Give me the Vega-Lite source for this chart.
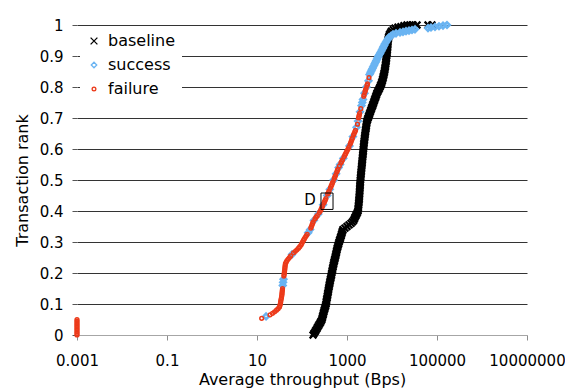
{
  "$schema": "https://vega.github.io/schema/vega-lite/v6.json",
  "width": 450,
  "height": 310,
  "autosize": {"type": "none"},
  "padding": {"left": 77, "top": 25, "right": 38, "bottom": 56},
  "config": {
    "view": {"stroke": null},
    "font": "DejaVu Sans"
  },
  "datasets": {
    "transactions": [
      {"rank": 0.00, "throughput": 176, "series": "baseline"},
      {"rank": 0.005, "throughput": 185, "series": "baseline"},
      {"rank": 0.01, "throughput": 194, "series": "baseline"},
      {"rank": 0.015, "throughput": 203, "series": "baseline"},
      {"rank": 0.02, "throughput": 213, "series": "baseline"},
      {"rank": 0.025, "throughput": 222, "series": "baseline"},
      {"rank": 0.03, "throughput": 233, "series": "baseline"},
      {"rank": 0.035, "throughput": 244, "series": "baseline"},
      {"rank": 0.04, "throughput": 255, "series": "baseline"},
      {"rank": 0.045, "throughput": 266, "series": "baseline"},
      {"rank": 0.05, "throughput": 277, "series": "baseline"},
      {"rank": 0.055, "throughput": 282, "series": "baseline"},
      {"rank": 0.06, "throughput": 288, "series": "baseline"},
      {"rank": 0.065, "throughput": 294, "series": "baseline"},
      {"rank": 0.07, "throughput": 300, "series": "baseline"},
      {"rank": 0.075, "throughput": 306, "series": "baseline"},
      {"rank": 0.08, "throughput": 313, "series": "baseline"},
      {"rank": 0.085, "throughput": 320, "series": "baseline"},
      {"rank": 0.09, "throughput": 328, "series": "baseline"},
      {"rank": 0.095, "throughput": 335, "series": "baseline"},
      {"rank": 0.10, "throughput": 342, "series": "baseline"},
      {"rank": 0.105, "throughput": 346, "series": "baseline"},
      {"rank": 0.11, "throughput": 350, "series": "baseline"},
      {"rank": 0.115, "throughput": 355, "series": "baseline"},
      {"rank": 0.12, "throughput": 361, "series": "baseline"},
      {"rank": 0.125, "throughput": 366, "series": "baseline"},
      {"rank": 0.13, "throughput": 371, "series": "baseline"},
      {"rank": 0.135, "throughput": 376, "series": "baseline"},
      {"rank": 0.14, "throughput": 382, "series": "baseline"},
      {"rank": 0.145, "throughput": 387, "series": "baseline"},
      {"rank": 0.15, "throughput": 392, "series": "baseline"},
      {"rank": 0.155, "throughput": 398, "series": "baseline"},
      {"rank": 0.16, "throughput": 404, "series": "baseline"},
      {"rank": 0.165, "throughput": 410, "series": "baseline"},
      {"rank": 0.17, "throughput": 417, "series": "baseline"},
      {"rank": 0.175, "throughput": 423, "series": "baseline"},
      {"rank": 0.18, "throughput": 430, "series": "baseline"},
      {"rank": 0.185, "throughput": 438, "series": "baseline"},
      {"rank": 0.19, "throughput": 446, "series": "baseline"},
      {"rank": 0.195, "throughput": 452, "series": "baseline"},
      {"rank": 0.20, "throughput": 459, "series": "baseline"},
      {"rank": 0.205, "throughput": 466, "series": "baseline"},
      {"rank": 0.21, "throughput": 474, "series": "baseline"},
      {"rank": 0.215, "throughput": 481, "series": "baseline"},
      {"rank": 0.22, "throughput": 489, "series": "baseline"},
      {"rank": 0.225, "throughput": 497, "series": "baseline"},
      {"rank": 0.23, "throughput": 506, "series": "baseline"},
      {"rank": 0.235, "throughput": 515, "series": "baseline"},
      {"rank": 0.24, "throughput": 525, "series": "baseline"},
      {"rank": 0.245, "throughput": 536, "series": "baseline"},
      {"rank": 0.25, "throughput": 547, "series": "baseline"},
      {"rank": 0.255, "throughput": 557, "series": "baseline"},
      {"rank": 0.26, "throughput": 567, "series": "baseline"},
      {"rank": 0.265, "throughput": 577, "series": "baseline"},
      {"rank": 0.27, "throughput": 587, "series": "baseline"},
      {"rank": 0.275, "throughput": 598, "series": "baseline"},
      {"rank": 0.28, "throughput": 609, "series": "baseline"},
      {"rank": 0.285, "throughput": 623, "series": "baseline"},
      {"rank": 0.29, "throughput": 637, "series": "baseline"},
      {"rank": 0.295, "throughput": 652, "series": "baseline"},
      {"rank": 0.30, "throughput": 667, "series": "baseline"},
      {"rank": 0.305, "throughput": 685, "series": "baseline"},
      {"rank": 0.31, "throughput": 703, "series": "baseline"},
      {"rank": 0.315, "throughput": 721, "series": "baseline"},
      {"rank": 0.32, "throughput": 740, "series": "baseline"},
      {"rank": 0.325, "throughput": 757, "series": "baseline"},
      {"rank": 0.33, "throughput": 774, "series": "baseline"},
      {"rank": 0.335, "throughput": 794, "series": "baseline"},
      {"rank": 0.34, "throughput": 815, "series": "baseline"},
      {"rank": 0.345, "throughput": 900, "series": "baseline"},
      {"rank": 0.35, "throughput": 1000, "series": "baseline"},
      {"rank": 0.355, "throughput": 1110, "series": "baseline"},
      {"rank": 0.36, "throughput": 1227, "series": "baseline"},
      {"rank": 0.365, "throughput": 1320, "series": "baseline"},
      {"rank": 0.37, "throughput": 1409, "series": "baseline"},
      {"rank": 0.375, "throughput": 1460, "series": "baseline"},
      {"rank": 0.38, "throughput": 1514, "series": "baseline"},
      {"rank": 0.385, "throughput": 1572, "series": "baseline"},
      {"rank": 0.39, "throughput": 1634, "series": "baseline"},
      {"rank": 0.395, "throughput": 1694, "series": "baseline"},
      {"rank": 0.40, "throughput": 1756, "series": "baseline"},
      {"rank": 0.405, "throughput": 1770, "series": "baseline"},
      {"rank": 0.41, "throughput": 1783, "series": "baseline"},
      {"rank": 0.415, "throughput": 1797, "series": "baseline"},
      {"rank": 0.42, "throughput": 1810, "series": "baseline"},
      {"rank": 0.425, "throughput": 1824, "series": "baseline"},
      {"rank": 0.43, "throughput": 1838, "series": "baseline"},
      {"rank": 0.435, "throughput": 1852, "series": "baseline"},
      {"rank": 0.44, "throughput": 1867, "series": "baseline"},
      {"rank": 0.445, "throughput": 1876, "series": "baseline"},
      {"rank": 0.45, "throughput": 1886, "series": "baseline"},
      {"rank": 0.455, "throughput": 1895, "series": "baseline"},
      {"rank": 0.46, "throughput": 1905, "series": "baseline"},
      {"rank": 0.465, "throughput": 1915, "series": "baseline"},
      {"rank": 0.47, "throughput": 1925, "series": "baseline"},
      {"rank": 0.475, "throughput": 1935, "series": "baseline"},
      {"rank": 0.48, "throughput": 1945, "series": "baseline"},
      {"rank": 0.485, "throughput": 1955, "series": "baseline"},
      {"rank": 0.49, "throughput": 1965, "series": "baseline"},
      {"rank": 0.495, "throughput": 1975, "series": "baseline"},
      {"rank": 0.50, "throughput": 1985, "series": "baseline"},
      {"rank": 0.505, "throughput": 2000, "series": "baseline"},
      {"rank": 0.51, "throughput": 2016, "series": "baseline"},
      {"rank": 0.515, "throughput": 2031, "series": "baseline"},
      {"rank": 0.52, "throughput": 2047, "series": "baseline"},
      {"rank": 0.525, "throughput": 2063, "series": "baseline"},
      {"rank": 0.53, "throughput": 2079, "series": "baseline"},
      {"rank": 0.535, "throughput": 2095, "series": "baseline"},
      {"rank": 0.54, "throughput": 2111, "series": "baseline"},
      {"rank": 0.545, "throughput": 2128, "series": "baseline"},
      {"rank": 0.55, "throughput": 2144, "series": "baseline"},
      {"rank": 0.555, "throughput": 2160, "series": "baseline"},
      {"rank": 0.56, "throughput": 2177, "series": "baseline"},
      {"rank": 0.565, "throughput": 2194, "series": "baseline"},
      {"rank": 0.57, "throughput": 2211, "series": "baseline"},
      {"rank": 0.575, "throughput": 2228, "series": "baseline"},
      {"rank": 0.58, "throughput": 2245, "series": "baseline"},
      {"rank": 0.585, "throughput": 2262, "series": "baseline"},
      {"rank": 0.59, "throughput": 2280, "series": "baseline"},
      {"rank": 0.595, "throughput": 2297, "series": "baseline"},
      {"rank": 0.60, "throughput": 2314, "series": "baseline"},
      {"rank": 0.605, "throughput": 2332, "series": "baseline"},
      {"rank": 0.61, "throughput": 2350, "series": "baseline"},
      {"rank": 0.615, "throughput": 2368, "series": "baseline"},
      {"rank": 0.62, "throughput": 2387, "series": "baseline"},
      {"rank": 0.625, "throughput": 2411, "series": "baseline"},
      {"rank": 0.63, "throughput": 2436, "series": "baseline"},
      {"rank": 0.635, "throughput": 2461, "series": "baseline"},
      {"rank": 0.64, "throughput": 2487, "series": "baseline"},
      {"rank": 0.645, "throughput": 2512, "series": "baseline"},
      {"rank": 0.65, "throughput": 2538, "series": "baseline"},
      {"rank": 0.655, "throughput": 2564, "series": "baseline"},
      {"rank": 0.66, "throughput": 2591, "series": "baseline"},
      {"rank": 0.665, "throughput": 2624, "series": "baseline"},
      {"rank": 0.67, "throughput": 2657, "series": "baseline"},
      {"rank": 0.675, "throughput": 2684, "series": "baseline"},
      {"rank": 0.68, "throughput": 2712, "series": "baseline"},
      {"rank": 0.685, "throughput": 2747, "series": "baseline"},
      {"rank": 0.69, "throughput": 2783, "series": "baseline"},
      {"rank": 0.695, "throughput": 2862, "series": "baseline"},
      {"rank": 0.70, "throughput": 2944, "series": "baseline"},
      {"rank": 0.705, "throughput": 3027, "series": "baseline"},
      {"rank": 0.71, "throughput": 3113, "series": "baseline"},
      {"rank": 0.715, "throughput": 3203, "series": "baseline"},
      {"rank": 0.72, "throughput": 3295, "series": "baseline"},
      {"rank": 0.725, "throughput": 3389, "series": "baseline"},
      {"rank": 0.73, "throughput": 3485, "series": "baseline"},
      {"rank": 0.735, "throughput": 3594, "series": "baseline"},
      {"rank": 0.74, "throughput": 3706, "series": "baseline"},
      {"rank": 0.745, "throughput": 3812, "series": "baseline"},
      {"rank": 0.75, "throughput": 3920, "series": "baseline"},
      {"rank": 0.755, "throughput": 4032, "series": "baseline"},
      {"rank": 0.76, "throughput": 4147, "series": "baseline"},
      {"rank": 0.765, "throughput": 4265, "series": "baseline"},
      {"rank": 0.77, "throughput": 4387, "series": "baseline"},
      {"rank": 0.775, "throughput": 4513, "series": "baseline"},
      {"rank": 0.78, "throughput": 4642, "series": "baseline"},
      {"rank": 0.785, "throughput": 4823, "series": "baseline"},
      {"rank": 0.79, "throughput": 5012, "series": "baseline"},
      {"rank": 0.795, "throughput": 5208, "series": "baseline"},
      {"rank": 0.80, "throughput": 5412, "series": "baseline"},
      {"rank": 0.805, "throughput": 5595, "series": "baseline"},
      {"rank": 0.81, "throughput": 5784, "series": "baseline"},
      {"rank": 0.815, "throughput": 5934, "series": "baseline"},
      {"rank": 0.82, "throughput": 6087, "series": "baseline"},
      {"rank": 0.825, "throughput": 6213, "series": "baseline"},
      {"rank": 0.83, "throughput": 6341, "series": "baseline"},
      {"rank": 0.835, "throughput": 6456, "series": "baseline"},
      {"rank": 0.84, "throughput": 6573, "series": "baseline"},
      {"rank": 0.845, "throughput": 6692, "series": "baseline"},
      {"rank": 0.85, "throughput": 6813, "series": "baseline"},
      {"rank": 0.855, "throughput": 6900, "series": "baseline"},
      {"rank": 0.86, "throughput": 6989, "series": "baseline"},
      {"rank": 0.865, "throughput": 7079, "series": "baseline"},
      {"rank": 0.87, "throughput": 7171, "series": "baseline"},
      {"rank": 0.875, "throughput": 7245, "series": "baseline"},
      {"rank": 0.88, "throughput": 7319, "series": "baseline"},
      {"rank": 0.885, "throughput": 7394, "series": "baseline"},
      {"rank": 0.89, "throughput": 7470, "series": "baseline"},
      {"rank": 0.895, "throughput": 7528, "series": "baseline"},
      {"rank": 0.90, "throughput": 7586, "series": "baseline"},
      {"rank": 0.905, "throughput": 7664, "series": "baseline"},
      {"rank": 0.91, "throughput": 7743, "series": "baseline"},
      {"rank": 0.915, "throughput": 7803, "series": "baseline"},
      {"rank": 0.92, "throughput": 7863, "series": "baseline"},
      {"rank": 0.925, "throughput": 7923, "series": "baseline"},
      {"rank": 0.93, "throughput": 7984, "series": "baseline"},
      {"rank": 0.935, "throughput": 8025, "series": "baseline"},
      {"rank": 0.94, "throughput": 8066, "series": "baseline"},
      {"rank": 0.945, "throughput": 8107, "series": "baseline"},
      {"rank": 0.95, "throughput": 8149, "series": "baseline"},
      {"rank": 0.955, "throughput": 8275, "series": "baseline"},
      {"rank": 0.96, "throughput": 8403, "series": "baseline"},
      {"rank": 0.965, "throughput": 8600, "series": "baseline"},
      {"rank": 0.97, "throughput": 8799, "series": "baseline"},
      {"rank": 0.975, "throughput": 9260, "series": "baseline"},
      {"rank": 0.98, "throughput": 9747, "series": "baseline"},
      {"rank": 0.985, "throughput": 10660, "series": "baseline"},
      {"rank": 0.99, "throughput": 11659, "series": "baseline"},
      {"rank": 0.993, "throughput": 13600, "series": "baseline"},
      {"rank": 0.995, "throughput": 15849, "series": "baseline"},
      {"rank": 0.998, "throughput": 18500, "series": "baseline"},
      {"rank": 1.0, "throughput": 21544, "series": "baseline"},
      {"rank": 1.0, "throughput": 25100, "series": "baseline"},
      {"rank": 1.0, "throughput": 29286, "series": "baseline"},
      {"rank": 1.0, "throughput": 35938, "series": "baseline"},
      {"rank": 1.0, "throughput": 63096, "series": "baseline"},
      {"rank": 1.0, "throughput": 77426, "series": "baseline"},

      {"rank": 0.06, "throughput": 15.9, "series": "success"},
      {"rank": 0.16, "throughput": 37.4, "series": "success"},
      {"rank": 0.17, "throughput": 38.0, "series": "success"},
      {"rank": 0.18, "throughput": 38.8, "series": "success"},
      {"rank": 0.26, "throughput": 60.0, "series": "success"},
      {"rank": 0.33, "throughput": 137.3, "series": "success"},
      {"rank": 0.34, "throughput": 151.4, "series": "success"},
      {"rank": 0.37, "throughput": 183.9, "series": "success"},
      {"rank": 0.39, "throughput": 230.3, "series": "success"},
      {"rank": 0.42, "throughput": 294.4, "series": "success"},
      {"rank": 0.45, "throughput": 363.1, "series": "success"},
      {"rank": 0.47, "throughput": 414.8, "series": "success"},
      {"rank": 0.50, "throughput": 506.3, "series": "success"},
      {"rank": 0.52, "throughput": 572.5, "series": "success"},
      {"rank": 0.54, "throughput": 650.7, "series": "success"},
      {"rank": 0.55, "throughput": 702.6, "series": "success"},
      {"rank": 0.57, "throughput": 827.7, "series": "success"},
      {"rank": 0.61, "throughput": 1136, "series": "success"},
      {"rank": 0.64, "throughput": 1353, "series": "success"},
      {"rank": 0.67, "throughput": 1626, "series": "success"},
      {"rank": 0.69, "throughput": 1756, "series": "success"},
      {"rank": 0.72, "throughput": 1945, "series": "success"},
      {"rank": 0.74, "throughput": 2100, "series": "success"},
      {"rank": 0.75, "throughput": 2188, "series": "success"},
      {"rank": 0.76, "throughput": 2268, "series": "success"},
      {"rank": 0.78, "throughput": 2448, "series": "success"},
      {"rank": 0.80, "throughput": 2712, "series": "success"},
      {"rank": 0.82, "throughput": 3005, "series": "success"},
      {"rank": 0.84, "throughput": 3162, "series": "success"},
      {"rank": 0.845, "throughput": 3290, "series": "success"},
      {"rank": 0.85, "throughput": 3415, "series": "success"},
      {"rank": 0.855, "throughput": 3550, "series": "success"},
      {"rank": 0.86, "throughput": 3687, "series": "success"},
      {"rank": 0.865, "throughput": 3830, "series": "success"},
      {"rank": 0.87, "throughput": 3981, "series": "success"},
      {"rank": 0.875, "throughput": 4140, "series": "success"},
      {"rank": 0.88, "throughput": 4298, "series": "success"},
      {"rank": 0.885, "throughput": 4470, "series": "success"},
      {"rank": 0.89, "throughput": 4642, "series": "success"},
      {"rank": 0.895, "throughput": 4820, "series": "success"},
      {"rank": 0.90, "throughput": 5012, "series": "success"},
      {"rank": 0.905, "throughput": 5250, "series": "success"},
      {"rank": 0.91, "throughput": 5495, "series": "success"},
      {"rank": 0.915, "throughput": 5740, "series": "success"},
      {"rank": 0.92, "throughput": 5995, "series": "success"},
      {"rank": 0.925, "throughput": 6230, "series": "success"},
      {"rank": 0.93, "throughput": 6474, "series": "success"},
      {"rank": 0.935, "throughput": 6730, "series": "success"},
      {"rank": 0.94, "throughput": 6989, "series": "success"},
      {"rank": 0.945, "throughput": 7350, "series": "success"},
      {"rank": 0.95, "throughput": 7743, "series": "success"},
      {"rank": 0.955, "throughput": 8150, "series": "success"},
      {"rank": 0.96, "throughput": 8577, "series": "success"},
      {"rank": 0.965, "throughput": 9500, "series": "success"},
      {"rank": 0.97, "throughput": 10525, "series": "success"},
      {"rank": 0.973, "throughput": 12270, "series": "success"},
      {"rank": 0.976, "throughput": 15059, "series": "success"},
      {"rank": 0.978, "throughput": 17557, "series": "success"},
      {"rank": 0.98, "throughput": 20468, "series": "success"},
      {"rank": 0.982, "throughput": 23865, "series": "success"},
      {"rank": 0.984, "throughput": 27826, "series": "success"},
      {"rank": 0.986, "throughput": 32442, "series": "success"},
      {"rank": 0.99, "throughput": 63096, "series": "success"},
      {"rank": 0.992, "throughput": 73564, "series": "success"},
      {"rank": 0.994, "throughput": 90270, "series": "success"},
      {"rank": 0.996, "throughput": 110770, "series": "success"},
      {"rank": 0.998, "throughput": 135936, "series": "success"},
      {"rank": 1.0, "throughput": 166810, "series": "success"},

      {"rank": 0.00, "throughput": 0.001, "series": "failure"},
      {"rank": 0.005, "throughput": 0.001, "series": "failure"},
      {"rank": 0.01, "throughput": 0.001, "series": "failure"},
      {"rank": 0.015, "throughput": 0.001, "series": "failure"},
      {"rank": 0.02, "throughput": 0.001, "series": "failure"},
      {"rank": 0.025, "throughput": 0.001, "series": "failure"},
      {"rank": 0.03, "throughput": 0.001, "series": "failure"},
      {"rank": 0.035, "throughput": 0.001, "series": "failure"},
      {"rank": 0.04, "throughput": 0.001, "series": "failure"},
      {"rank": 0.045, "throughput": 0.001, "series": "failure"},
      {"rank": 0.05, "throughput": 0.001, "series": "failure"},
      {"rank": 0.054, "throughput": 12.7, "series": "failure"},
      {"rank": 0.065, "throughput": 19.5, "series": "failure"},
      {"rank": 0.07, "throughput": 22.1, "series": "failure"},
      {"rank": 0.075, "throughput": 24.6, "series": "failure"},
      {"rank": 0.08, "throughput": 27.1, "series": "failure"},
      {"rank": 0.085, "throughput": 29.4, "series": "failure"},
      {"rank": 0.09, "throughput": 31.6, "series": "failure"},
      {"rank": 0.095, "throughput": 32.3, "series": "failure"},
      {"rank": 0.10, "throughput": 32.9, "series": "failure"},
      {"rank": 0.105, "throughput": 33.4, "series": "failure"},
      {"rank": 0.11, "throughput": 33.8, "series": "failure"},
      {"rank": 0.115, "throughput": 34.3, "series": "failure"},
      {"rank": 0.12, "throughput": 34.9, "series": "failure"},
      {"rank": 0.125, "throughput": 35.3, "series": "failure"},
      {"rank": 0.13, "throughput": 35.8, "series": "failure"},
      {"rank": 0.135, "throughput": 36.0, "series": "failure"},
      {"rank": 0.14, "throughput": 36.3, "series": "failure"},
      {"rank": 0.145, "throughput": 36.6, "series": "failure"},
      {"rank": 0.15, "throughput": 36.9, "series": "failure"},
      {"rank": 0.19, "throughput": 39.6, "series": "failure"},
      {"rank": 0.195, "throughput": 40.0, "series": "failure"},
      {"rank": 0.20, "throughput": 40.4, "series": "failure"},
      {"rank": 0.205, "throughput": 40.8, "series": "failure"},
      {"rank": 0.21, "throughput": 41.3, "series": "failure"},
      {"rank": 0.215, "throughput": 41.6, "series": "failure"},
      {"rank": 0.22, "throughput": 41.9, "series": "failure"},
      {"rank": 0.225, "throughput": 42.3, "series": "failure"},
      {"rank": 0.23, "throughput": 42.8, "series": "failure"},
      {"rank": 0.235, "throughput": 44.5, "series": "failure"},
      {"rank": 0.24, "throughput": 46.4, "series": "failure"},
      {"rank": 0.245, "throughput": 49.3, "series": "failure"},
      {"rank": 0.25, "throughput": 52.5, "series": "failure"},
      {"rank": 0.255, "throughput": 56.0, "series": "failure"},
      {"rank": 0.265, "throughput": 65.0, "series": "failure"},
      {"rank": 0.27, "throughput": 71.0, "series": "failure"},
      {"rank": 0.275, "throughput": 77.0, "series": "failure"},
      {"rank": 0.28, "throughput": 83.6, "series": "failure"},
      {"rank": 0.285, "throughput": 89.0, "series": "failure"},
      {"rank": 0.29, "throughput": 95.0, "series": "failure"},
      {"rank": 0.295, "throughput": 98.7, "series": "failure"},
      {"rank": 0.30, "throughput": 102.6, "series": "failure"},
      {"rank": 0.305, "throughput": 107.4, "series": "failure"},
      {"rank": 0.31, "throughput": 112.5, "series": "failure"},
      {"rank": 0.315, "throughput": 118.0, "series": "failure"},
      {"rank": 0.32, "throughput": 124.0, "series": "failure"},
      {"rank": 0.325, "throughput": 130.5, "series": "failure"},
      {"rank": 0.345, "throughput": 157, "series": "failure"},
      {"rank": 0.35, "throughput": 161.8, "series": "failure"},
      {"rank": 0.355, "throughput": 166.8, "series": "failure"},
      {"rank": 0.36, "throughput": 172.0, "series": "failure"},
      {"rank": 0.365, "throughput": 177.4, "series": "failure"},
      {"rank": 0.375, "throughput": 194.5, "series": "failure"},
      {"rank": 0.38, "throughput": 204.7, "series": "failure"},
      {"rank": 0.385, "throughput": 218, "series": "failure"},
      {"rank": 0.395, "throughput": 242.6, "series": "failure"},
      {"rank": 0.40, "throughput": 255.1, "series": "failure"},
      {"rank": 0.405, "throughput": 264.4, "series": "failure"},
      {"rank": 0.41, "throughput": 274.0, "series": "failure"},
      {"rank": 0.415, "throughput": 284, "series": "failure"},
      {"rank": 0.425, "throughput": 305, "series": "failure"},
      {"rank": 0.43, "throughput": 316.2, "series": "failure"},
      {"rank": 0.435, "throughput": 328, "series": "failure"},
      {"rank": 0.44, "throughput": 339.8, "series": "failure"},
      {"rank": 0.455, "throughput": 371, "series": "failure"},
      {"rank": 0.46, "throughput": 388.1, "series": "failure"},
      {"rank": 0.465, "throughput": 401, "series": "failure"},
      {"rank": 0.475, "throughput": 428, "series": "failure"},
      {"rank": 0.48, "throughput": 443.3, "series": "failure"},
      {"rank": 0.485, "throughput": 459, "series": "failure"},
      {"rank": 0.49, "throughput": 473.8, "series": "failure"},
      {"rank": 0.495, "throughput": 489, "series": "failure"},
      {"rank": 0.505, "throughput": 522, "series": "failure"},
      {"rank": 0.51, "throughput": 538.4, "series": "failure"},
      {"rank": 0.515, "throughput": 555, "series": "failure"},
      {"rank": 0.525, "throughput": 590, "series": "failure"},
      {"rank": 0.53, "throughput": 608.6, "series": "failure"},
      {"rank": 0.535, "throughput": 628, "series": "failure"},
      {"rank": 0.545, "throughput": 676, "series": "failure"},
      {"rank": 0.555, "throughput": 732, "series": "failure"},
      {"rank": 0.56, "throughput": 762.5, "series": "failure"},
      {"rank": 0.565, "throughput": 794, "series": "failure"},
      {"rank": 0.575, "throughput": 858, "series": "failure"},
      {"rank": 0.58, "throughput": 893.5, "series": "failure"},
      {"rank": 0.585, "throughput": 931, "series": "failure"},
      {"rank": 0.59, "throughput": 969.7, "series": "failure"},
      {"rank": 0.595, "throughput": 1010, "series": "failure"},
      {"rank": 0.60, "throughput": 1052.5, "series": "failure"},
      {"rank": 0.605, "throughput": 1095, "series": "failure"},
      {"rank": 0.615, "throughput": 1170, "series": "failure"},
      {"rank": 0.62, "throughput": 1208, "series": "failure"},
      {"rank": 0.625, "throughput": 1240, "series": "failure"},
      {"rank": 0.63, "throughput": 1278, "series": "failure"},
      {"rank": 0.635, "throughput": 1313, "series": "failure"},
      {"rank": 0.645, "throughput": 1396, "series": "failure"},
      {"rank": 0.65, "throughput": 1438, "series": "failure"},
      {"rank": 0.655, "throughput": 1490, "series": "failure"},
      {"rank": 0.66, "throughput": 1545, "series": "failure"},
      {"rank": 0.68, "throughput": 1711, "series": "failure"},
      {"rank": 0.70, "throughput": 1801, "series": "failure"},
      {"rank": 0.705, "throughput": 1838, "series": "failure"},
      {"rank": 0.71, "throughput": 1876, "series": "failure"},
      {"rank": 0.715, "throughput": 1905, "series": "failure"},
      {"rank": 0.73, "throughput": 2026, "series": "failure"},
      {"rank": 0.77, "throughput": 2362, "series": "failure"},
      {"rank": 0.775, "throughput": 2399, "series": "failure"},
      {"rank": 0.785, "throughput": 2512, "series": "failure"},
      {"rank": 0.79, "throughput": 2577, "series": "failure"},
      {"rank": 0.795, "throughput": 2644, "series": "failure"},
      {"rank": 0.805, "throughput": 2783, "series": "failure"},
      {"rank": 0.81, "throughput": 2855, "series": "failure"},
      {"rank": 0.83, "throughput": 3082, "series": "failure"}
    ],
    "marker": [
      {"left": 264, "right": 489, "low": 0.405, "high": 0.458, "throughput": 151, "rank": 0.435, "label": "D"}
    ]
  },
  "encoding": {
    "x": {
      "field": "throughput",
      "type": "quantitative",
      "scale": {"type": "log", "domain": [0.001, 10000000], "nice": false},
      "axis": {
        "values": [0.001, 0.1, 10, 1000, 100000, 10000000],
        "format": "~f",
        "title": "Average throughput (Bps)",
        "grid": false,
        "domainColor": "#a6a6a6",
        "tickColor": "#8c8c8c",
        "tickSize": 5,
        "labelFontSize": 15,
        "labelPadding": 13,
        "labelColor": "#000000",
        "labelFlush": false,
        "labelOverlap": false,
        "titleFontSize": 16,
        "titleFontWeight": "normal",
        "titleColor": "#000000",
        "titlePadding": 3
      }
    },
    "y": {
      "field": "rank",
      "type": "quantitative",
      "scale": {"domain": [0, 1], "nice": false},
      "axis": {
        "values": [0, 0.1, 0.2, 0.3, 0.4, 0.5, 0.6, 0.7, 0.8, 0.9, 1],
        "format": "~f",
        "title": "Transaction rank",
        "grid": true,
        "gridColor": {"condition": {"test": "datum.value === 0", "value": "#a6a6a6"}, "value": "#333333"},
        "gridOpacity": 1,
        "domain": false,
        "tickSize": 5,
        "tickColor": "#555555",
        "labelFontSize": 15,
        "labelPadding": 9,
        "labelColor": "#000000",
        "titleFontSize": 16,
        "titleFontWeight": "normal",
        "titleColor": "#000000",
        "titlePadding": 9
      }
    },
    "color": {
      "field": "series",
      "type": "nominal",
      "scale": {"domain": ["baseline", "success", "failure"], "range": ["#000000", "#6ab4f2", "#ec3a1a"]},
      "legend": {
        "title": null,
        "orient": "none",
        "legendX": 3,
        "legendY": 2,
        "direction": "vertical",
        "fillColor": "#ffffff",
        "padding": 6,
        "labelFontSize": 16,
        "labelColor": "#000000",
        "labelOffset": 6,
        "rowPadding": 8,
        "symbolStrokeWidth": 1.3
      }
    },
    "shape": {
      "field": "series",
      "type": "nominal",
      "scale": {"domain": ["baseline", "success", "failure"], "range": ["M-1,-1L1,1M-1,1L1,-1", "diamond", "circle"]}
    },
    "size": {
      "field": "series",
      "type": "nominal",
      "scale": {"domain": ["baseline", "success", "failure"], "range": [46, 14, 36]}
    }
  },
  "layer": [
    {
      "data": {"name": "transactions"},
      "transform": [{"filter": "datum.series === 'baseline'"}],
      "mark": {"type": "point", "filled": false, "strokeWidth": 2.2, "opacity": 1}
    },
    {
      "data": {"name": "transactions"},
      "transform": [{"filter": "datum.series === 'success'"}],
      "mark": {"type": "point", "filled": false, "strokeWidth": 2.6, "opacity": 1}
    },
    {
      "data": {"name": "transactions"},
      "transform": [{"filter": "datum.series === 'failure'"}],
      "mark": {"type": "point", "filled": false, "strokeWidth": 1.5, "opacity": 1}
    },
    {
      "data": {"name": "marker"},
      "mark": {"type": "rect", "fill": null, "fillOpacity": 0, "stroke": "#000000", "strokeWidth": 1},
      "encoding": {
        "x": {"field": "left", "type": "quantitative"},
        "x2": {"field": "right"},
        "y": {"field": "low", "type": "quantitative"},
        "y2": {"field": "high"},
        "color": null,
        "shape": null,
        "size": null
      }
    },
    {
      "data": {"name": "marker"},
      "mark": {"type": "text", "fontSize": 15, "color": "#000000", "align": "center", "baseline": "middle"},
      "encoding": {
        "text": {"field": "label"},
        "color": null,
        "shape": null,
        "size": null
      }
    }
  ]
}
